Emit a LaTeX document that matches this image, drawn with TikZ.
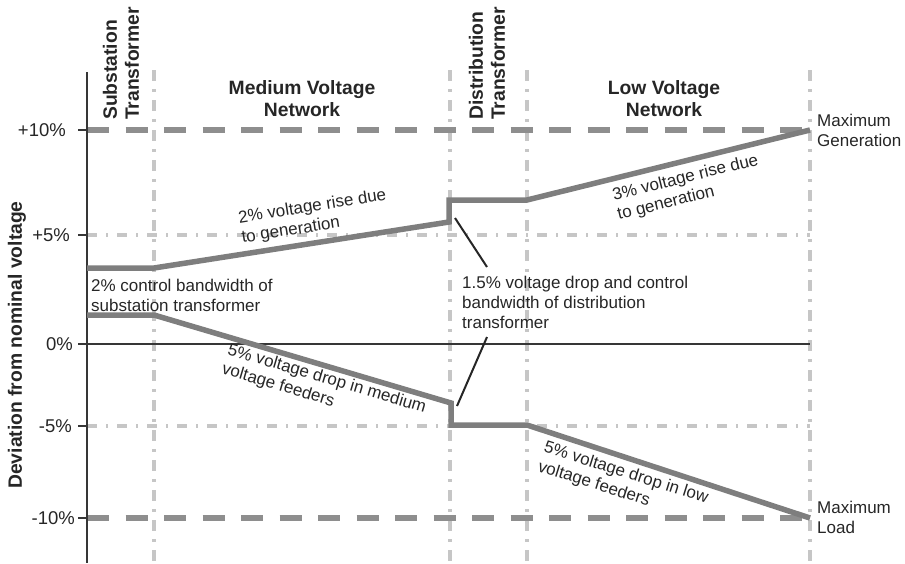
\documentclass[tikz,border=0pt]{standalone}
\usepackage{fontspec}
\setmainfont{Liberation Sans}
\definecolor{ink}{HTML}{262626}
\definecolor{axisgray}{HTML}{363636}
\definecolor{gridgray}{HTML}{C6C6C6}
\definecolor{limgray}{HTML}{8E8E8E}
\definecolor{profgray}{HTML}{7E7E7E}
\begin{document}
\begin{tikzpicture}[x=1pt,y=-1pt,
  txt/.style={font=\fontsize{17}{20}\selectfont, text=ink, inner sep=0pt, align=left},
  hdr/.style={font=\bfseries\fontsize{19.3}{22}\selectfont, text=ink, inner sep=0pt},
  ticklab/.style={font=\fontsize{18.5}{20}\selectfont, text=ink, anchor=east, inner sep=0pt},
  gridv/.style={draw=gridgray, line width=3.5pt, dash pattern=on 11pt off 8pt on 2.5pt off 8.5pt},
  gridh/.style={draw=gridgray, line width=4pt, dash pattern=on 10pt off 9pt on 2pt off 9pt},
  limit/.style={draw=limgray, line width=6.5pt, dash pattern=on 22pt off 16.5pt},
  profile/.style={draw=profgray, line width=5.5pt, line join=miter},
  pointer/.style={draw=ink, line width=2pt},
  tickmark/.style={draw=axisgray, line width=2.5pt},
]
\useasboundingbox (0,0) rectangle (905,563);

% section boundaries
\coordinate (v1t) at (154,70);  \coordinate (v1b) at (154,563);
\coordinate (v2t) at (450,70);  \coordinate (v2b) at (450,563);
\coordinate (v3t) at (527,70);  \coordinate (v3b) at (527,563);
\coordinate (v4t) at (810,70);  \coordinate (v4b) at (810,563);
\foreach \v in {v1,v2,v3,v4} \draw[gridv] (\v t) -- (\v b);

% +5 % and -5 % reference levels
\coordinate (p5l) at (87,235);  \coordinate (p5r) at (810,235);
\coordinate (m5l) at (87,426);  \coordinate (m5r) at (810,426);
\draw[gridh] (p5l) -- (p5r);
\draw[gridh] (m5l) -- (m5r);

% +10 % and -10 % limits
\coordinate (p10l) at (87,130);  \coordinate (p10r) at (810,130);
\coordinate (m10l) at (87,518);  \coordinate (m10r) at (810,518);
\draw[limit] (p10l) -- (p10r);
\draw[limit] (m10l) -- (m10r);

% nominal voltage
\coordinate (zl) at (87,344);  \coordinate (zr) at (810,344);
\draw[draw=axisgray, line width=2.2pt] (zl) -- (zr);

% vertical axis and ticks
\coordinate (axt) at (87,72);  \coordinate (axb) at (87,563);
\draw[draw=axisgray, line width=2.2pt] (axt) -- (axb);
\foreach \yy in {130,235,344,426,518}
  \draw[tickmark] (78,\yy) -- (87,\yy);

\node[ticklab] (t10)  at (66,130) {+10\%};
\node[ticklab] (t5)   at (70,235) {+5\%};
\node[ticklab] (t0)   at (73,344) {0\%};
\node[ticklab] (tm5)  at (72,426) {-5\%};
\node[ticklab] (tm10) at (75,518) {-10\%};

\node[hdr, rotate=90] (ylab) at (17,345) {Deviation from nominal voltage};

% maximum generation profile
\coordinate (u0) at (87,268);
\coordinate (u1) at (154,268);
\coordinate (u2) at (449,222);
\coordinate (u3) at (449,200);
\coordinate (u4) at (527,200);
\coordinate (u5) at (810,130);
\draw[profile] (u0) -- (u1) -- (u2) -- (u3) -- (u4) -- (u5);

% maximum load profile
\coordinate (l0) at (87,315);
\coordinate (l1) at (154,315);
\coordinate (l2) at (451,403);
\coordinate (l3) at (451,425);
\coordinate (l4) at (527,425);
\coordinate (l5) at (810,518);
\draw[profile] (l0) -- (l1) -- (l2) -- (l3) -- (l4) -- (l5);

% section headers
\node[hdr, rotate=90, anchor=west, align=left] (sub) at (121,120) {Substation\\Transformer};
\node[hdr, rotate=90, anchor=west, align=left] (dist) at (487,120) {Distribution\\Transformer};
\node[hdr, align=center] (mv) at (302,99) {Medium Voltage\\Network};
\node[hdr, align=center] (lv) at (664,99) {Low Voltage\\Network};

% end labels
\node[txt, anchor=west] (maxgen) at (817,130) {Maximum\\Generation};
\node[txt, anchor=west] (maxload) at (817,517) {Maximum\\Load};

% annotations
\node[txt, anchor=west] (subbw) at (91,295) {2\% control bandwidth of\\substation transformer};
\node[txt, anchor=west] (distbw) at (462,302) {1.5\% voltage drop and control\\bandwidth of distribution\\transformer};
\node[txt, rotate=9] (mvrise) at (314,217) {2\% voltage rise due\\to generation};
\node[txt, rotate=13.8] (lvrise) at (688,188) {3\% voltage rise due\\to generation};
\node[txt, rotate=-16.5] (mvdrop) at (324,389) {5\% voltage drop in medium\\voltage feeders};
\node[txt, rotate=-17.5] (lvdrop) at (623,483) {5\% voltage drop in low\\voltage feeders};

% pointers from the distribution transformer note to the steps
\coordinate (stepup) at (455,218);
\coordinate (stepdn) at (457,406);
\coordinate (noteup) at (487,267);
\coordinate (notedn) at (487,337);
\draw[pointer] (noteup) -- (stepup);
\draw[pointer] (notedn) -- (stepdn);
\end{tikzpicture}
\end{document}
